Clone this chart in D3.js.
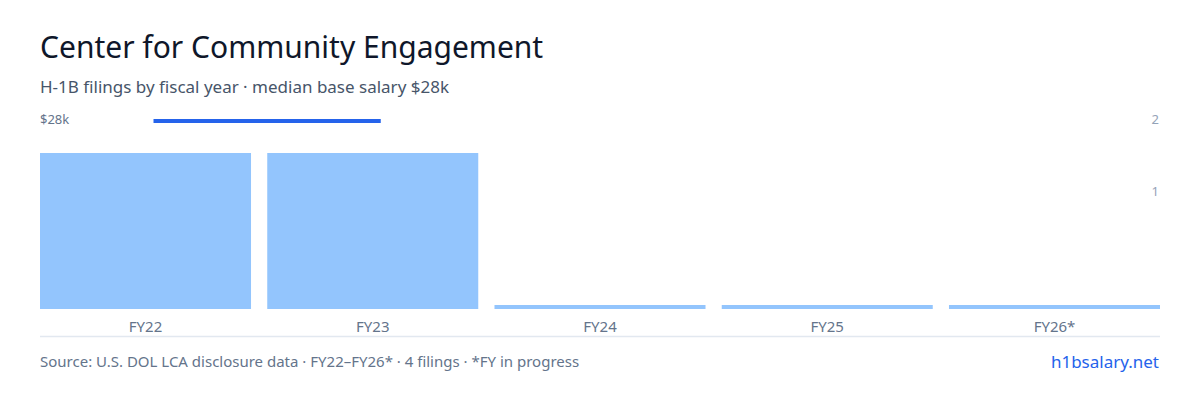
<!DOCTYPE html>
<html>
<head>
<meta charset="utf-8">
<script src="https://cdn.jsdelivr.net/npm/d3@7"></script>
<style>
  body { margin: 0; background: #fff; font-family: "Noto Sans", sans-serif; }
</style>
</head>
<body>
<div id="chart"></div>
<script>
// data
var years = ["FY22", "FY23", "FY24", "FY25", "FY26*"];
var filings = [2, 2, 0, 0, 0];
var salary = [28000, 28000, null, null, null];
var countTicks = [1, 2];

var svg = d3.select("#chart").append("svg")
  .attr("width", 1200).attr("height", 400);

svg.append("text").attr("x", 40).attr("y", 58)
  .attr("font-size", 30).attr("fill", "#0f172a")
  .text("Center for Community Engagement");
svg.append("text").attr("x", 40).attr("y", 93)
  .attr("font-size", 17).attr("fill", "#475569")
  .text("H-1B filings by fiscal year · median base salary $28k");

var x = d3.scaleBand().domain(years).range([40, 1160]).paddingInner(16 / 224).paddingOuter(0);
// bar height scale: 2 filings -> 156px tall
var y = d3.scaleLinear().domain([0, 2]).range([309, 153]);
// right tick label positions
var yTick = d3.scaleLinear().domain([1, 2]).range([191, 119]);
var ySal = d3.scaleLinear().domain([0, 28000]).range([309, 121]);

// bars (zero-value years get a thin stub)
svg.append("g").selectAll("rect")
  .data(filings)
  .enter().append("rect")
  .attr("x", (d, i) => x(years[i]))
  .attr("width", x.bandwidth())
  .attr("y", d => d > 0 ? y(d) : 305)
  .attr("height", d => d > 0 ? 309 - y(d) : 4)
  .attr("fill", "#93c5fd");

// salary line
var line = d3.line()
  .defined(d => d != null)
  .x((d, i) => x(years[i]) + x.bandwidth() / 2 + 8)
  .y(d => ySal(d));
svg.append("path").datum(salary)
  .attr("d", line)
  .attr("fill", "none").attr("stroke", "#2563eb").attr("stroke-width", 4);

svg.append("text").attr("x", 40).attr("y", 124)
  .attr("font-size", 13).attr("fill", "#64748b").text("$28k");

// right count ticks
svg.append("g").selectAll("text").data(countTicks).enter().append("text")
  .attr("x", 1159).attr("y", d => yTick(d) + 5)
  .attr("text-anchor", "end").attr("font-size", 13).attr("fill", "#94a3b8")
  .text(d => d);

// category labels
svg.append("g").selectAll("text").data(years).enter().append("text")
  .attr("x", d => x(d) + x.bandwidth() / 2).attr("y", 332)
  .attr("text-anchor", "middle").attr("font-size", 15).attr("fill", "#64748b")
  .text(d => d);

svg.append("line").attr("x1", 40).attr("x2", 1160).attr("y1", 336.5).attr("y2", 336.5)
  .attr("stroke", "#e2e8f0").attr("stroke-width", 1.5);

svg.append("text").attr("x", 40).attr("y", 367)
  .attr("font-size", 15).attr("fill", "#64748b")
  .text("Source: U.S. DOL LCA disclosure data · FY22–FY26* · 4 filings · *FY in progress");
svg.append("text").attr("x", 1159).attr("y", 368)
  .attr("text-anchor", "end").attr("font-size", 17).attr("fill", "#2563eb")
  .text("h1bsalary.net");
</script>
</body>
</html>
